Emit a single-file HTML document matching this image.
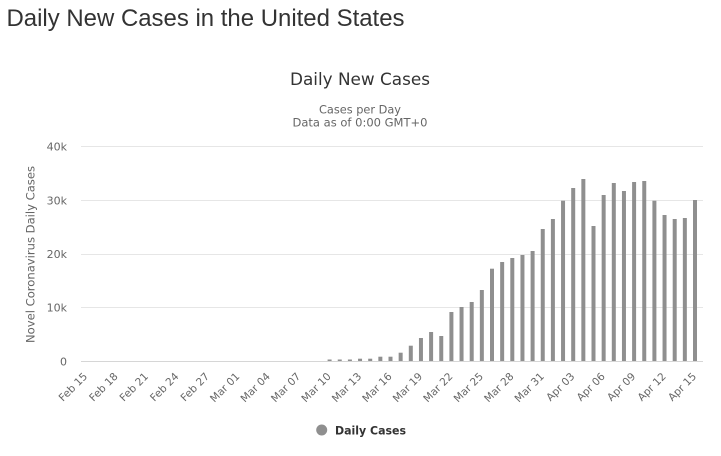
<!DOCTYPE html>
<html>
<head>
<meta charset="utf-8">
<style>
  html, body { margin: 0; padding: 0; background: #ffffff; }
  body { width: 721px; height: 456px; overflow: hidden; position: relative; }
  svg { position: absolute; left: 0; top: 0; }
</style>
</head>
<body>
<svg width="721" height="456" viewBox="0 0 721 456" xmlns="http://www.w3.org/2000/svg">
  <!-- Page title -->
  <text x="6.5" y="26" font-family="Liberation Sans, Arial, sans-serif" font-size="24" fill="#333333" textLength="398" lengthAdjust="spacingAndGlyphs">Daily New Cases in the United States</text>

  <!-- Chart title -->
  <text x="360" y="85" text-anchor="middle" font-family="DejaVu Sans, Verdana, sans-serif" font-size="16.5" fill="#333333" textLength="140" lengthAdjust="spacingAndGlyphs">Daily New Cases</text>
  <text x="360" y="113.3" text-anchor="middle" font-family="DejaVu Sans, Verdana, sans-serif" font-size="11.5" fill="#666666" textLength="82" lengthAdjust="spacingAndGlyphs">Cases per Day</text>
  <text x="360" y="126.7" text-anchor="middle" font-family="DejaVu Sans, Verdana, sans-serif" font-size="11.5" fill="#666666" textLength="135" lengthAdjust="spacingAndGlyphs">Data as of 0:00 GMT+0</text>

  <!-- Grid lines -->
  <g stroke="#e6e6e6" stroke-width="1">
    <line x1="81" y1="146.5" x2="703" y2="146.5"/>
    <line x1="81" y1="200.5" x2="703" y2="200.5"/>
    <line x1="81" y1="254.5" x2="703" y2="254.5"/>
    <line x1="81" y1="307.5" x2="703" y2="307.5"/>
  </g>
  <line x1="81" y1="361.5" x2="703" y2="361.5" stroke="#d6d6d6" stroke-width="1"/>

  <!-- Y axis labels -->
  <g font-family="DejaVu Sans, Verdana, sans-serif" font-size="11" fill="#666666" text-anchor="end">
    <text x="67" y="150.5">40k</text>
    <text x="67" y="204.5">30k</text>
    <text x="67" y="258">20k</text>
    <text x="67" y="311.5">10k</text>
    <text x="67" y="365.5">0</text>
  </g>

  <!-- Y axis title -->
  <text x="0" y="0" transform="translate(34.5 254.5) rotate(-90)" text-anchor="middle" font-family="DejaVu Sans, Verdana, sans-serif" font-size="11.5" fill="#666666" textLength="177" lengthAdjust="spacingAndGlyphs">Novel Coronavirus Daily Cases</text>

  <!-- Bars -->
  <g fill="#8f8f8f">
    <rect x="327.6" y="359.5" width="4" height="1.5"/>
    <rect x="337.75" y="359.5" width="4" height="1.5"/>
    <rect x="347.9" y="359.5" width="4" height="1.5"/>
    <rect x="358.05" y="358.7" width="4" height="2.3"/>
    <rect x="368.2" y="358.7" width="4" height="2.3"/>
    <rect x="378.35" y="356.7" width="4" height="4.3"/>
    <rect x="388.5" y="356.7" width="4" height="4.3"/>
    <rect x="398.65" y="352.7" width="4" height="8.3"/>
    <rect x="408.8" y="345.7" width="4" height="15.3"/>
    <rect x="418.95" y="338" width="4" height="23"/>
    <rect x="429.1" y="332" width="4" height="29"/>
    <rect x="439.25" y="336" width="4" height="25"/>
    <rect x="449.4" y="312" width="4" height="49"/>
    <rect x="459.55" y="307" width="4" height="54"/>
    <rect x="469.7" y="302" width="4" height="59"/>
    <rect x="479.85" y="290" width="4" height="71"/>
    <rect x="490" y="268.7" width="4" height="92.3"/>
    <rect x="500.15" y="262" width="4" height="99"/>
    <rect x="510.3" y="258" width="4" height="103"/>
    <rect x="520.45" y="255" width="4" height="106"/>
    <rect x="530.6" y="251" width="4" height="110"/>
    <rect x="540.75" y="229" width="4" height="132"/>
    <rect x="550.9" y="219" width="4" height="142"/>
    <rect x="561.05" y="200.7" width="4" height="160.3"/>
    <rect x="571.2" y="188" width="4" height="173"/>
    <rect x="581.35" y="179" width="4" height="182"/>
    <rect x="591.5" y="226" width="4" height="135"/>
    <rect x="601.65" y="195" width="4" height="166"/>
    <rect x="611.8" y="183" width="4" height="178"/>
    <rect x="621.95" y="191" width="4" height="170"/>
    <rect x="632.1" y="182" width="4" height="179"/>
    <rect x="642.25" y="181" width="4" height="180"/>
    <rect x="652.4" y="200.7" width="4" height="160.3"/>
    <rect x="662.55" y="215" width="4" height="146"/>
    <rect x="672.7" y="219" width="4" height="142"/>
    <rect x="682.85" y="218" width="4" height="143"/>
    <rect x="693" y="200" width="4" height="161"/>
  </g>

  <!-- X axis labels -->
  <g font-family="DejaVu Sans, Verdana, sans-serif" font-size="10.5" fill="#666666" text-anchor="end">
    <text x="88" y="377" transform="rotate(-45 88 377)">Feb 15</text>
    <text x="118.45" y="377" transform="rotate(-45 118.45 377)">Feb 18</text>
    <text x="148.9" y="377" transform="rotate(-45 148.9 377)">Feb 21</text>
    <text x="179.35" y="377" transform="rotate(-45 179.35 377)">Feb 24</text>
    <text x="209.8" y="377" transform="rotate(-45 209.8 377)">Feb 27</text>
    <text x="240.25" y="377" transform="rotate(-45 240.25 377)">Mar 01</text>
    <text x="270.7" y="377" transform="rotate(-45 270.7 377)">Mar 04</text>
    <text x="301.15" y="377" transform="rotate(-45 301.15 377)">Mar 07</text>
    <text x="331.6" y="377" transform="rotate(-45 331.6 377)">Mar 10</text>
    <text x="362.05" y="377" transform="rotate(-45 362.05 377)">Mar 13</text>
    <text x="392.5" y="377" transform="rotate(-45 392.5 377)">Mar 16</text>
    <text x="422.95" y="377" transform="rotate(-45 422.95 377)">Mar 19</text>
    <text x="453.4" y="377" transform="rotate(-45 453.4 377)">Mar 22</text>
    <text x="483.85" y="377" transform="rotate(-45 483.85 377)">Mar 25</text>
    <text x="514.3" y="377" transform="rotate(-45 514.3 377)">Mar 28</text>
    <text x="544.75" y="377" transform="rotate(-45 544.75 377)">Mar 31</text>
    <text x="575.2" y="377" transform="rotate(-45 575.2 377)">Apr 03</text>
    <text x="605.65" y="377" transform="rotate(-45 605.65 377)">Apr 06</text>
    <text x="636.1" y="377" transform="rotate(-45 636.1 377)">Apr 09</text>
    <text x="666.55" y="377" transform="rotate(-45 666.55 377)">Apr 12</text>
    <text x="697" y="377" transform="rotate(-45 697 377)">Apr 15</text>
  </g>

  <!-- Legend -->
  <circle cx="321.7" cy="430" r="5.5" fill="#8f8f8f"/>
  <text x="335" y="434.5" font-family="DejaVu Sans, Verdana, sans-serif" font-size="11.5" font-weight="bold" fill="#333333" textLength="71" lengthAdjust="spacingAndGlyphs">Daily Cases</text>
</svg>
</body>
</html>
